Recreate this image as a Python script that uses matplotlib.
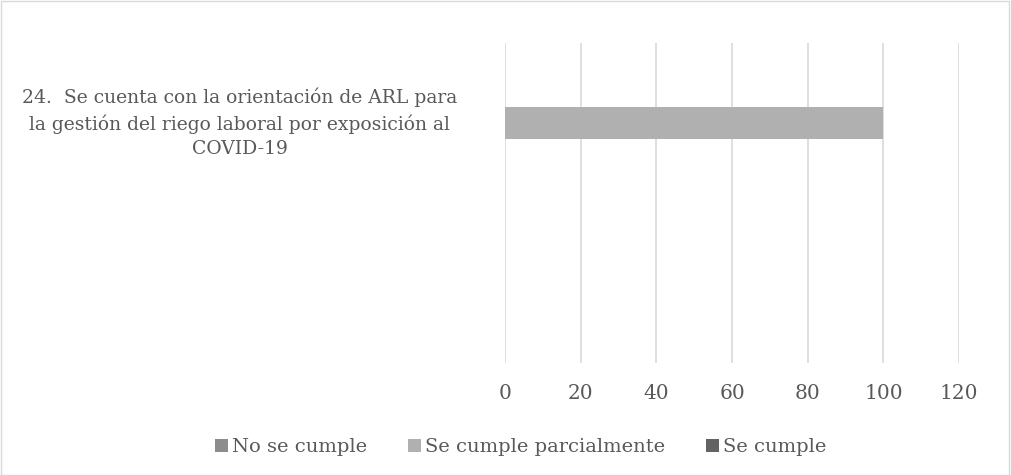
import matplotlib.pyplot as plt
import numpy as np
from matplotlib.patches import Rectangle

categories = ["24.  Se cuenta con la orientación de ARL para\nla gestión del riego laboral por exposición al\nCOVID-19", ""]
series = ["No se cumple", "Se cumple parcialmente", "Se cumple"]
no_cumple = [0, 0]
parcial = [100, 0]
cumple = [0, 0]
colors = ["#8c8c8c", "#b0b0b0", "#636363"]

plt.rcParams['font.family'] = ['DejaVu Serif']
txt = "#595959"

fig = plt.figure(figsize=(10.11, 4.75), dpi=100)
ax = fig.add_axes([0.4995, 0.2358, 0.4491, 0.6737])
fig.patches.append(Rectangle((0.001, 0.001), 0.997, 0.996, transform=fig.transFigure,
                             fill=False, edgecolor="#d9d9d9", lw=1))

# first category at the top, like Excel's reversed category axis
y = np.arange(len(categories))
h = 0.206
vals = [no_cumple, parcial, cumple]
for i, (name, v) in enumerate(zip(series, vals)):
    ax.barh(y + (i - 1) * h, v, height=h, color=colors[i], label=name, zorder=3)

ax.set_ylim(1.5, -0.5)
ax.set_xlim(0, 120)
ax.set_xticks(range(0, 121, 20))
ax.set_yticks([])
ax.grid(axis="x", color="#d9d9d9", lw=1.2, zorder=0)
for s in ax.spines.values():
    s.set_visible(False)
ax.tick_params(axis="x", length=0, colors=txt, labelsize=14.5, pad=15)

for yi, lab in zip(y, categories):
    ax.text(-0.584, yi, lab, transform=ax.get_yaxis_transform(),
            ha="center", va="center", multialignment="center", fontsize=13.5,
            color=txt, linespacing=1.45)

fig.legend(loc="center", bbox_to_anchor=(0.5153, 0.058), ncol=3, frameon=False,
           fontsize=14, handlelength=0.67, handleheight=0.67, handletextpad=0.2,
           columnspacing=2.1, labelcolor=txt)

fig.savefig("out.png", dpi=100)
